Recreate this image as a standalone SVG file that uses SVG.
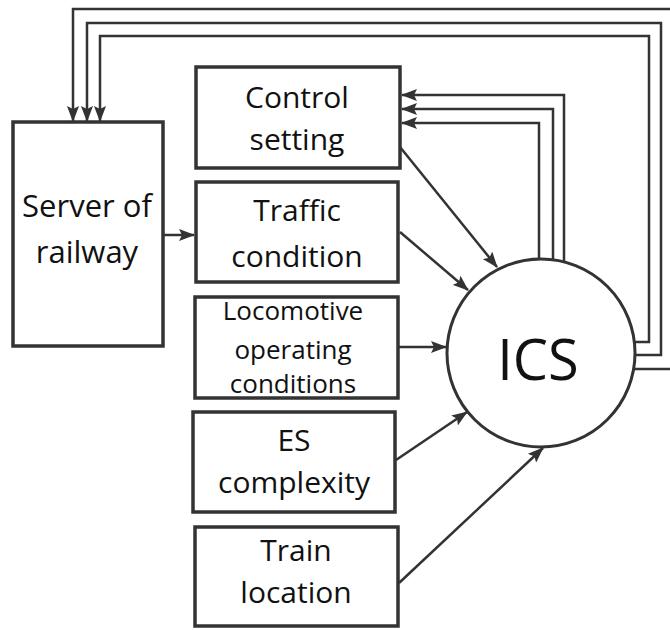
<svg xmlns="http://www.w3.org/2000/svg" width="670" height="630" viewBox="0 0 670 630">
<style>
.box{fill:#fff;stroke:#333;stroke-width:3.5}
.lbl{font-family:"Open Sans","Noto Sans",sans-serif;font-size:30px;fill:#111;text-anchor:middle}
.con{fill:none;stroke:#333;stroke-width:2.5}
</style>
<defs>
<marker id="ah" markerUnits="userSpaceOnUse" markerWidth="16" markerHeight="12" refX="15" refY="6" orient="auto">
<path d="M0,0 L16,6 L0,12 L3,6 Z" fill="#333"/>
</marker>
</defs>
<rect width="670" height="630" fill="#fff"/>
<g id="connectors">
<polyline class="con" points="633,369 673,369 673,9 73,9 73,121" marker-end="url(#ah)"/>
<polyline class="con" points="635,355 661,355 661,23 87,23 87,121" marker-end="url(#ah)"/>
<polyline class="con" points="634,342 649,342 649,36 100,36 100,121" marker-end="url(#ah)"/>
<polyline class="con" points="564,262 564,95 402,95" marker-end="url(#ah)"/>
<polyline class="con" points="553,260 553,109 402,109" marker-end="url(#ah)"/>
<polyline class="con" points="539,259 539,123 402,123" marker-end="url(#ah)"/>
<line class="con" x1="164" y1="235" x2="194" y2="235" marker-end="url(#ah)"/>
<line class="con" x1="400" y1="147" x2="497" y2="267" marker-end="url(#ah)"/>
<line class="con" x1="400" y1="232" x2="468" y2="290" marker-end="url(#ah)"/>
<line class="con" x1="398" y1="347" x2="446" y2="347" marker-end="url(#ah)"/>
<line class="con" x1="396" y1="460" x2="467" y2="412" marker-end="url(#ah)"/>
<line class="con" x1="399" y1="583" x2="543" y2="448" marker-end="url(#ah)"/>
</g>
<g id="server">
<rect class="box" x="13" y="122" width="150" height="224"/>
<text class="lbl" x="87" y="217" style="font-size:31px">Server of</text>
<text class="lbl" x="87" y="263" style="font-size:31px">railway</text>
</g>
<g id="control">
<rect class="box" x="196" y="67" width="204" height="101"/>
<text class="lbl" x="297" y="108">Control</text>
<text class="lbl" x="297" y="150">setting</text>
</g>
<g id="traffic">
<rect class="box" x="196" y="182" width="202" height="100"/>
<text class="lbl" x="297" y="221">Traffic</text>
<text class="lbl" x="297" y="267">condition</text>
</g>
<g id="loco">
<rect class="box" x="195" y="297" width="203" height="101"/>
<text class="lbl" x="293" y="320" style="font-size:26px">Locomotive</text>
<text class="lbl" x="293" y="359" style="font-size:26px">operating</text>
<text class="lbl" x="293" y="393" style="font-size:26px">conditions</text>
</g>
<g id="es">
<rect class="box" x="193" y="412" width="202" height="100"/>
<text class="lbl" x="294" y="451">ES</text>
<text class="lbl" x="294" y="493">complexity</text>
</g>
<g id="train">
<rect class="box" x="195" y="527" width="203" height="99"/>
<text class="lbl" x="296" y="561">Train</text>
<text class="lbl" x="296" y="603">location</text>
</g>
<g id="ics">
<circle cx="541" cy="353" r="94" fill="#fff" stroke="#333" stroke-width="3"/>
<text class="lbl" x="538" y="380" style="font-size:56px">ICS</text>
</g>
</svg>
